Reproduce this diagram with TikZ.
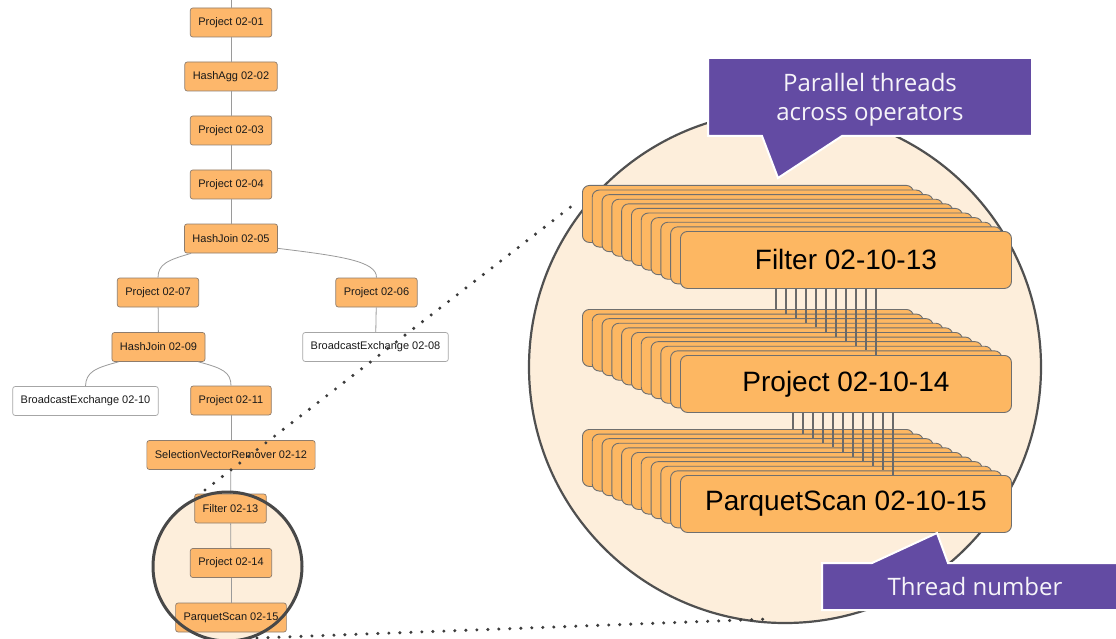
\documentclass[tikz,border=0pt]{standalone}
\usepackage{fontspec}
\setmainfont{Liberation Sans}
\newfontfamily\callfont{Open Sans}
\definecolor{nodeorange}{HTML}{FDB76B}
\definecolor{nodeedge}{HTML}{8E7C6C}
\definecolor{boxorange}{HTML}{FDB762}
\definecolor{layeredge}{HTML}{6F6F6F}
\definecolor{peach}{HTML}{FDEEDB}
\definecolor{purp}{HTML}{634BA3}
\definecolor{edgegray}{HTML}{9A9A9A}
\definecolor{threadgray}{HTML}{6A6A6A}
\definecolor{dotgray}{HTML}{3C3C3C}
\definecolor{circgray}{HTML}{505050}
\tikzset{
  opnode/.style={draw=nodeedge, fill=nodeorange, rounded corners=2.5pt, minimum height=29pt,
    inner xsep=8pt, inner ysep=0pt, font=\fontsize{11}{13}\selectfont, text=black!90, line width=0.7pt},
  exnode/.style={opnode, fill=white, draw=gray!70},
  treeedge/.style={draw=edgegray, line width=0.8pt},
  layerbox/.style={draw=layeredge, fill=boxorange, rounded corners=7pt, minimum width=331pt,
    minimum height=57pt, anchor=north west, line width=0.9pt, inner sep=0pt},
  layertext/.style={font=\fontsize{28}{32}\selectfont, text=black},
  threadline/.style={draw=threadgray, line width=1.1pt},
  dotline/.style={draw=dotgray, line width=3.4pt, line cap=round, dash pattern=on 0pt off 11pt},
  calloutshape/.style={fill=purp, draw=white, line width=2pt, line join=miter},
  callouttext/.style={text=white!94!purp, font=\callfont\fontsize{24}{29}\selectfont, align=center},
  bigcircle/.style={circle, minimum size=512pt, inner sep=0pt, fill=peach, draw=circgray, line width=2.2pt},
  smallfill/.style={circle, minimum size=149pt, inner sep=0pt, fill=peach},
  smallring/.style={circle, minimum size=149pt, inner sep=0pt, draw=circgray!90!black, line width=3pt}
}
\begin{document}
\begin{tikzpicture}[x=1pt,y=-1pt]
\useasboundingbox[fill=white] (0,0) rectangle (1116,639);

% ---------- big magnifier circle ----------
\node[bigcircle] (bigc) at (785,367) {};

% ---------- small circle fill ----------
\node[smallfill] (smallc) at (227.5,566.5) {};

% ---------- tree ----------
\coordinate (top) at (231,0);
\node[opnode] (n01) at (231,22.5) {Project 02-01};
\node[opnode] (n02) at (231,76.5) {HashAgg 02-02};
\node[opnode] (n03) at (231,130.5) {Project 02-03};
\node[opnode] (n04) at (231,184.5) {Project 02-04};
\node[opnode] (n05) at (231,238.5) {HashJoin 02-05};
\node[opnode] (n07) at (158,292.5) {Project 02-07};
\node[opnode] (n06) at (376.5,292.5) {Project 02-06};
\node[opnode] (n09) at (158.5,347) {HashJoin 02-09};
\node[exnode] (n08) at (375.5,347) {BroadcastExchange 02-08};
\node[exnode] (n10) at (85.5,401) {BroadcastExchange 02-10};
\node[opnode] (n11) at (231,400.5) {Project 02-11};
\node[opnode] (n12) at (231,455) {SelectionVectorRemover 02-12};
\node[opnode] (n13) at (230.5,508.5) {Filter 02-13};
\node[opnode] (n14) at (231,563) {Project 02-14};
\node[opnode] (n15) at (231,617.5) {ParquetScan 02-15};

\draw[treeedge] (top) -- (n01);
\draw[treeedge] (n01) -- (n02);
\draw[treeedge] (n02) -- (n03);
\draw[treeedge] (n03) -- (n04);
\draw[treeedge] (n04) -- (n05);
\draw[treeedge] ([xshift=7pt]n05.south west) .. controls (168,260) and (158,264) .. (n07.north);
\draw[treeedge] ([yshift=5pt]n05.south east) .. controls (340,256) and (377,261) .. (n06.north);
\draw[treeedge] (n07) -- (n09);
\draw[treeedge] (n06) -- (n08);
\draw[treeedge] ([xshift=7pt]n09.south west) .. controls (95,368) and (86,372) .. (n10.north);
\draw[treeedge] ([xshift=-7pt]n09.south east) .. controls (222,368) and (231,372) .. (n11.north);
\draw[treeedge] (n11) -- (n12);
\draw[treeedge] (n12) -- (n13);
\draw[treeedge] (n13) -- (n14);
\draw[treeedge] (n14) -- (n15);

% ---------- small circle ring ----------
\node[smallring] (ring) at (smallc) {};

% ---------- dotted magnifier lines ----------
\coordinate (d1a) at (205,490);
\coordinate (d1b) at (577,202);
\coordinate (d2a) at (257,638);
\coordinate (d2b) at (770,619);
\draw[dotline] (d1a) -- (d1b);
\draw[dotline] (d2a) -- (d2b);

% ---------- stacks ----------
\foreach \s/\T/\lab in {1/185/{Filter 02-10-13}, 2/309/{Project 02-10-14}, 3/429/{ParquetScan 02-10-15}} {
  \foreach \k in {0,...,10} {
    \node[layerbox] (s\s-\k) at ({582+9.8*\k},{\T+4.6*\k}) {};
  }
  \node[layertext] (lab\s) at (s\s-10.center) {\lab};
}
\foreach \i in {0,...,10} {
  \coordinate (ta\i) at ([xshift={(96+10*\i)*1pt}]s1-10.south west);
  \draw[threadline] (ta\i) -- (ta\i |- s2-\i.north);
  \coordinate (tb\i) at ([xshift={(113+10*\i)*1pt}]s2-10.south west);
  \draw[threadline] (tb\i) -- (tb\i |- s3-\i.north);
}

% ---------- callouts ----------
\path[calloutshape] (708,58) -- (1032,58) -- (1032,136) -- (842,136) -- (778,178) -- (762,136) -- (708,136) -- cycle;
\node[callouttext] (call1) at (870,100) {Parallel threads\\across operators};
\path[calloutshape] (822,563) -- (872,563) -- (937,533) -- (948,563) -- (1124,563) -- (1124,610) -- (822,610) -- cycle;
\node[callouttext] (call2) at (975,586.5) {Thread number};
\end{tikzpicture}
\end{document}
